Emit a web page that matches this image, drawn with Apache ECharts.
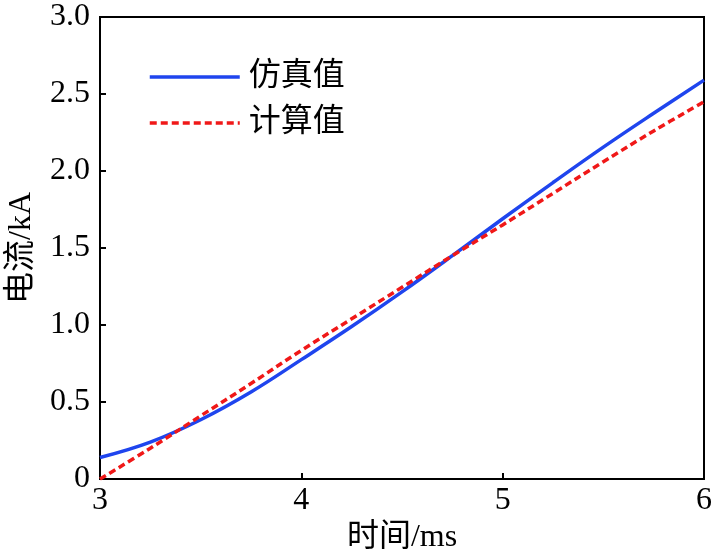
<!DOCTYPE html>
<html>
<head>
<meta charset="utf-8">
<script src="https://cdn.jsdelivr.net/npm/echarts@6/dist/echarts.min.js"></script>
<style>
  html, body { margin: 0; padding: 0; background: #fff; }
  #chart { width: 714px; height: 549px; }
</style>
</head>
<body>
<div id="chart"></div>
<script>
// time in ms
const times = [3.0, 3.25, 3.5, 3.75, 4.0, 4.25, 4.5, 4.75, 5.0, 5.25, 5.5, 5.75, 6.0]
// current in kA
const simValues = [0.14, 0.24, 0.385, 0.565, 0.775, 0.99, 1.215, 1.45, 1.69, 1.925, 2.155, 2.375, 2.59]
const calcValues = [0.0, 0.20, 0.41, 0.62, 0.835, 1.04, 1.245, 1.45, 1.65, 1.855, 2.06, 2.26, 2.45]
const xTicks = ['3', '4', '5', '6']
const yTicks = ['0', '0.5', '1.0', '1.5', '2.0', '2.5', '3.0']

const serif = '"Liberation Serif", "Times New Roman", "Noto Sans CJK SC", serif'
const blue = '#1f45ee'
const red = '#f01818'

const chart = echarts.init(document.getElementById('chart'), null, { renderer: 'canvas' })

const option = {
  animation: false,
  grid: {
    left: 100, right: 10, top: 17, bottom: 70,
    outerBoundsMode: 'none',
    containLabel: false,
    show: true, borderColor: '#000', borderWidth: 2
  },
  legend: {
    orient: 'vertical',
    left: 143, top: 56,
    itemWidth: 90, itemHeight: 14, itemGap: 14,
    itemStyle: { opacity: 0 },
    textStyle: { fontFamily: serif, fontSize: 32, color: '#000', padding: [0, 0, 0, 4] },
    data: [
      { name: '仿真值', lineStyle: { width: 3.5 } },
      { name: '计算值', lineStyle: { width: 3.5 } }
    ]
  },
  xAxis: {
    type: 'value',
    min: 3, max: 6, interval: 1,
    name: '时间/ms',
    nameLocation: 'middle',
    nameGap: 34,
    nameTextStyle: { fontFamily: serif, fontSize: 32, color: '#000' },
    axisLine: { lineStyle: { color: '#000', width: 2 } },
    axisTick: { inside: true, length: 6, lineStyle: { color: '#000', width: 2 } },
    axisLabel: {
      fontFamily: serif, fontSize: 32, color: '#000', margin: 6,
      formatter: v => xTicks[Math.round(v - 3)]
    },
    splitLine: { show: false }
  },
  yAxis: {
    type: 'value',
    min: 0, max: 3, interval: 0.5,
    name: '电流/kA',
    nameLocation: 'middle',
    nameGap: 62,
    nameTextStyle: { fontFamily: serif, fontSize: 32, color: '#000' },
    axisLine: { show: true, lineStyle: { color: '#000', width: 2 } },
    axisTick: { show: true, inside: true, length: 6, lineStyle: { color: '#000', width: 2 } },
    axisLabel: {
      fontFamily: serif, fontSize: 32, color: '#000', margin: 10,
      formatter: v => yTicks[Math.round(v * 2)]
    },
    splitLine: { show: false }
  },
  series: [
    {
      name: '仿真值',
      type: 'line',
      data: times.map((t, i) => [t, simValues[i]]),
      smooth: 0.4,
      symbol: 'none',
      color: blue,
      lineStyle: { color: blue, width: 3.5 }
    },
    {
      name: '计算值',
      type: 'line',
      data: times.map((t, i) => [t, calcValues[i]]),
      smooth: 0.4,
      symbol: 'none',
      color: red,
      lineStyle: { color: red, width: 3.5, type: [7, 4] }
    }
  ]
}

chart.setOption(option)
</script>
</body>
</html>
